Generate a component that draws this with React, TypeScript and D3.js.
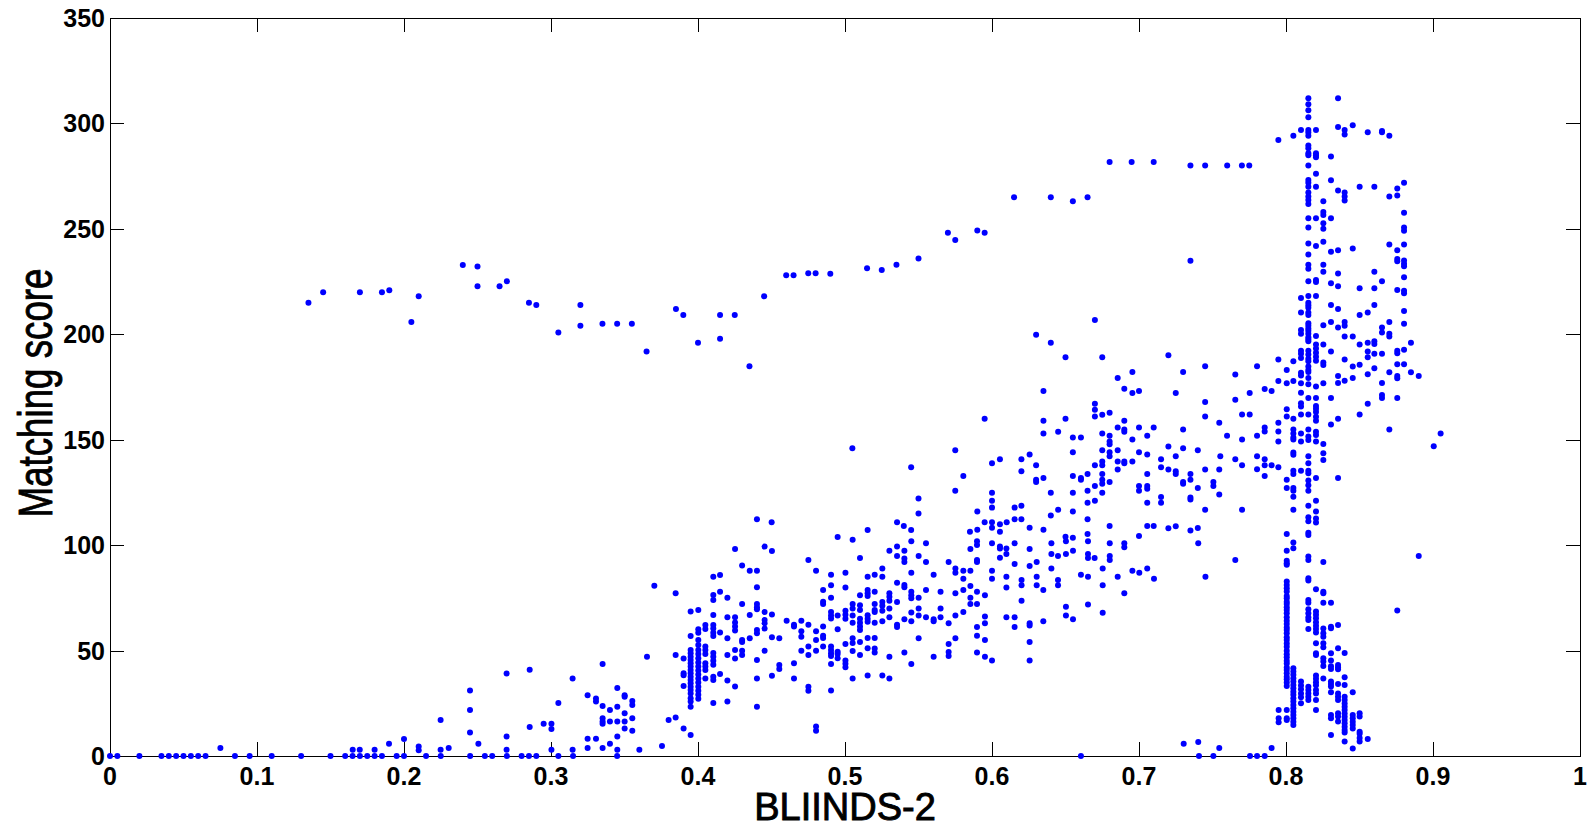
import React, { useEffect, useRef } from 'react';
import * as d3 from 'd3';

type Pt = [number, number];
type Col = [number, number[]];

const W = 1591;
const H = 827;

// tick values
const xTicks = [0, 0.1, 0.2, 0.3, 0.4, 0.5, 0.6, 0.7, 0.8, 0.9, 1];
const yTicks = [0, 50, 100, 150, 200, 250, 300, 350];
const xTickLabels = ['0', '0.1', '0.2', '0.3', '0.4', '0.5', '0.6', '0.7', '0.8', '0.9', '1'];
const yTickLabels = ['0', '50', '100', '150', '200', '250', '300', '350'];

// images scoring zero
const zeroRowX = [
  0, 0.005, 0.02, 0.035, 0.04, 0.045, 0.05, 0.055, 0.06, 0.065, 0.085, 0.095, 0.11, 0.13, 0.15, 0.16,
  0.165, 0.17, 0.175, 0.18, 0.185, 0.195, 0.2, 0.215, 0.225, 0.245, 0.255, 0.26, 0.27, 0.28, 0.285,
  0.29, 0.305, 0.315, 0.345, 0.6605, 0.7408, 0.7506, 0.7755, 0.7803, 0.7855,
];

// sparse low scores, left side
const lowSparse: Pt[] = [
  [0.0751, 3.8], [0.1651, 3.0], [0.1699, 3.0], [0.18, 3.0], [0.1898, 5.8], [0.2, 8.1], [0.21, 4.5],
  [0.21, 2.7], [0.2249, 17.1], [0.2249, 3.0], [0.2304, 3.8], [0.2449, 31.1], [0.2449, 21.8],
  [0.2449, 11.1], [0.2506, 5.8], [0.2698, 39.1], [0.2698, 9.2], [0.2698, 3.0], [0.2855, 40.9],
  [0.2855, 13.8], [0.295, 15.3], [0.3003, 15.3], [0.3003, 12.8], [0.3003, 3.0], [0.305, 25.1],
  [0.3147, 36.7], [0.3147, 3.0], [0.3249, 28.8], [0.3249, 8.2], [0.3249, 3.8], [0.3306, 27.3],
  [0.3306, 25.8], [0.3306, 8.2], [0.3351, 43.6], [0.3351, 23.7], [0.3351, 17.9], [0.3351, 16.4],
  [0.3351, 15.3], [0.3351, 3.8], [0.3401, 21.8], [0.3401, 16.4], [0.3401, 5.8], [0.3451, 32.3],
  [0.3451, 23.4], [0.3451, 16.4], [0.3451, 9.2], [0.3451, 3.0], [0.3501, 28.8], [0.3501, 28.1],
  [0.3501, 20.3], [0.3501, 16.4], [0.3501, 13.0], [0.3553, 26.1], [0.3553, 24.2], [0.3553, 17.9],
  [0.3553, 12.0], [0.3601, 3.0], [0.3653, 47.1], [0.3703, 80.8], [0.3755, 4.7], [0.38, 17.1],
  [0.3848, 77.2], [0.3848, 47.9], [0.3848, 18.2], [0.3902, 46.2], [0.3902, 13.0], [0.395, 10.0],
  [0.3902, 39.2], [0.3902, 38.3], [0.3902, 33.2], [0.7304, 5.8], [0.7403, 6.6], [0.7546, 3.8],
  [0.7902, 3.8],
];

// upper band of high scores
const upperBand: Pt[] = [
  [0.135, 214.9], [0.145, 219.9], [0.17, 219.9], [0.185, 219.9], [0.19, 220.9], [0.205, 205.8],
  [0.21, 218.0], [0.24, 232.9], [0.25, 232.1], [0.25, 222.8], [0.265, 222.8], [0.27, 225.1],
  [0.285, 214.9], [0.29, 213.9], [0.305, 200.8], [0.32, 213.9], [0.32, 204.1], [0.335, 205.0],
  [0.345, 205.0], [0.355, 205.0], [0.365, 191.8], [0.385, 212.0], [0.39, 209.2], [0.4, 196.0],
  [0.415, 209.2], [0.415, 197.9], [0.425, 209.2], [0.435, 184.8], [0.445, 218.0], [0.46, 228.0],
  [0.465, 228.0], [0.475, 228.9], [0.48, 228.9], [0.49, 228.7], [0.515, 231.3], [0.525, 230.5],
  [0.535, 233.0], [0.55, 235.9], [0.57, 248.2], [0.575, 244.7], [0.59, 249.2], [0.595, 248.2],
  [0.615, 265.0], [0.64, 265.0], [0.655, 263.1], [0.665, 265.0], [0.68, 281.7], [0.695, 281.7],
  [0.71, 281.7], [0.735, 280.0], [0.745, 280.0], [0.76, 280.0], [0.77, 280.0], [0.775, 280.0],
  [0.735, 234.9], [0.4401, 112.3], [0.4501, 110.9], [0.7948, 292.2], [0.805, 294.1], [0.8102, 296.9],
];

// middle cloud, 0.47 - 0.81, scores above 100
const midCloud: Pt[] = [
  [0.67, 206.8], [0.63, 199.8], [0.64, 196.0], [0.65, 189.1], [0.675, 189.1], [0.72, 190.0],
  [0.73, 182.1], [0.745, 184.8], [0.6855, 179.3], [0.6955, 182.1], [0.69, 174.2], [0.6955, 172.2],
  [0.7, 173.1], [0.725, 172.2], [0.745, 167.9], [0.745, 161.0], [0.7546, 158.1], [0.635, 173.1],
  [0.67, 167.1], [0.67, 164.2], [0.67, 161.0], [0.675, 161.8], [0.68, 162.8], [0.595, 160.0],
  [0.635, 159.0], [0.65, 160.0], [0.635, 152.9], [0.645, 153.8], [0.655, 151.1], [0.6605, 151.1],
  [0.675, 152.9], [0.68, 151.9], [0.68, 149.2], [0.68, 147.8], [0.69, 159.0], [0.69, 154.8],
  [0.69, 153.8], [0.6855, 155.8], [0.7, 155.8], [0.71, 155.8], [0.6955, 150.1], [0.7056, 151.9],
  [0.73, 154.8], [0.505, 145.9], [0.655, 144.0], [0.675, 145.0], [0.68, 144.0], [0.68, 142.1],
  [0.6855, 145.0], [0.7, 144.0], [0.7056, 143.0], [0.72, 146.8], [0.73, 145.9], [0.74, 145.0],
  [0.725, 142.2], [0.715, 140.7], [0.6855, 139.7], [0.69, 139.7], [0.69, 138.8], [0.6955, 139.7],
  [0.675, 139.7], [0.675, 137.9], [0.67, 137.9], [0.665, 133.7], [0.6855, 135.9], [0.715, 136.9],
  [0.72, 135.9], [0.725, 135.0], [0.725, 133.7], [0.735, 133.7], [0.735, 131.0], [0.73, 130.0],
  [0.73, 129.1], [0.745, 135.9], [0.7546, 135.9], [0.7506, 130.0], [0.7506, 128.1], [0.7546, 124.0],
  [0.74, 127.1], [0.735, 122.6], [0.735, 121.6], [0.745, 116.8], [0.675, 133.7], [0.675, 131.0],
  [0.675, 129.1], [0.68, 130.0], [0.675, 124.9], [0.67, 128.1], [0.665, 125.8], [0.665, 120.1],
  [0.67, 121.1], [0.6605, 131.9], [0.6605, 131.0], [0.655, 132.8], [0.655, 124.9], [0.655, 115.9],
  [0.665, 112.3], [0.665, 105.3], [0.7, 128.1], [0.7, 125.8], [0.7056, 128.1], [0.7056, 126.8],
  [0.7056, 133.7], [0.7056, 120.1], [0.715, 122.8], [0.715, 120.1], [0.7056, 109.1], [0.71, 109.1],
  [0.72, 108.0], [0.725, 109.0], [0.735, 107.0], [0.74, 108.1], [0.7, 104.3], [0.68, 109.1],
  [0.64, 124.9], [0.64, 114.0], [0.645, 116.8], [0.65, 104.0], [0.655, 103.5], [0.635, 131.9],
  [0.63, 131.0], [0.63, 130.0], [0.63, 137.9], [0.6256, 143.0], [0.62, 140.7], [0.62, 135.0],
  [0.6054, 140.7], [0.6, 138.8], [0.5805, 132.8], [0.575, 145.0], [0.575, 125.8], [0.6, 124.9],
  [0.6, 121.1], [0.6, 117.8], [0.59, 115.9], [0.595, 110.8], [0.6, 110.8], [0.6, 108.2],
  [0.6054, 109.9], [0.6054, 106.3], [0.61, 110.8], [0.6154, 117.8], [0.62, 118.7], [0.6154, 112.3],
  [0.62, 112.3], [0.6256, 108.2], [0.635, 107.3], [0.59, 107.3], [0.585, 106.3], [0.55, 122.1],
  [0.55, 115.0], [0.545, 136.9], [0.5354, 110.8], [0.54, 109.1], [0.545, 107.2], [0.5154, 107.2],
  [0.495, 103.9], [0.5052, 102.5],
  [0.7655, 180.9], [0.7803, 184.8], [0.7948, 188.1], [0.805, 187.2], [0.8005, 183.1], [0.7948, 177.9],
  [0.8005, 176.8], [0.805, 177.9], [0.7855, 174.1], [0.7902, 173.1], [0.7753, 172.2], [0.7655, 168.9],
  [0.7701, 161.9], [0.7753, 161.9], [0.7599, 151.9], [0.7701, 150.1], [0.7803, 151.9], [0.7855, 155.8],
  [0.7855, 153.9], [0.7948, 158.1], [0.7948, 153.9], [0.7948, 149.1], [0.8005, 164.4], [0.8005, 161.0],
  [0.805, 160.0], [0.805, 154.8], [0.805, 152.9], [0.805, 151.1], [0.805, 150.1], [0.7553, 142.2],
  [0.7655, 140.7], [0.7701, 137.9], [0.7803, 142.2], [0.7855, 140.7], [0.7855, 137.9], [0.7902, 137.9],
  [0.7948, 136.9], [0.7803, 136.0], [0.805, 143.9], [0.805, 142.9], [0.8005, 131.0], [0.805, 135.3],
  [0.805, 133.7], [0.8005, 127.1], [0.805, 127.1], [0.805, 125.8], [0.805, 123.0], [0.7855, 132.8],
  [0.7701, 116.8], [0.805, 116.8], [0.8005, 105.3],
];

// main cloud, 0.47 - 0.76, scores below 100
const lowCloud: Pt[] = [
  [0.4703, 64.2], [0.4751, 62.3], [0.4703, 59.2], [0.4703, 56.6], [0.4803, 59.2], [0.4851, 61.4],
  [0.4851, 78.7], [0.4751, 51.9], [0.4803, 55.0], [0.4851, 57.0], [0.4851, 56.0], [0.4703, 49.9],
  [0.4751, 47.9], [0.4803, 49.9], [0.4851, 51.9], [0.4751, 93.0], [0.4803, 87.9], [0.4905, 86.0],
  [0.4905, 81.0], [0.4905, 75.1], [0.4851, 73.2], [0.4851, 72.1], [0.4905, 68.3], [0.4905, 66.6],
  [0.4905, 65.2], [0.4905, 51.9], [0.4905, 50.3], [0.4905, 48.7], [0.4905, 47.4], [0.4905, 43.6],
  [0.4905, 31.1], [0.4751, 32.9], [0.4751, 31.0], [0.4803, 14.0], [0.4803, 12.0], [0.495, 66.6],
  [0.495, 60.1], [0.495, 49.5], [0.495, 48.4], [0.495, 46.4], [0.5003, 86.9], [0.5003, 79.9],
  [0.5003, 68.9], [0.5003, 67.0], [0.5003, 65.1], [0.5003, 53.1], [0.5003, 45.3], [0.5003, 43.7],
  [0.5003, 42.1], [0.5052, 72.1], [0.5052, 70.0], [0.5052, 66.6], [0.5052, 63.2], [0.5052, 55.9],
  [0.5052, 53.6], [0.5052, 49.8], [0.5052, 36.7], [0.5102, 93.9], [0.5102, 76.2], [0.5102, 71.5],
  [0.5102, 69.3], [0.5102, 65.1], [0.5102, 63.2], [0.5102, 61.4], [0.5102, 59.8], [0.5102, 54.1],
  [0.5102, 47.9], [0.5154, 85.0], [0.5154, 78.7], [0.5154, 77.2], [0.5154, 75.9], [0.5154, 66.8],
  [0.5154, 65.1], [0.5154, 63.7], [0.5154, 56.0], [0.5154, 51.1], [0.5154, 38.2], [0.5202, 86.0],
  [0.5202, 77.9], [0.5202, 72.1], [0.5202, 69.3], [0.5202, 68.3], [0.5202, 63.2], [0.5202, 56.0],
  [0.5202, 51.0], [0.5202, 49.1], [0.5254, 88.9], [0.5254, 85.0], [0.5254, 73.0], [0.5254, 71.2],
  [0.5254, 68.9], [0.5254, 63.9], [0.5254, 38.2], [0.5302, 97.4], [0.5302, 77.2], [0.5302, 75.5],
  [0.5302, 73.6], [0.5302, 70.0], [0.5302, 65.8], [0.5302, 47.1], [0.5302, 36.7], [0.5354, 99.3],
  [0.5354, 94.9], [0.5354, 82.2], [0.5354, 73.0], [0.5354, 62.3], [0.5354, 61.2], [0.5404, 97.4],
  [0.5404, 93.7], [0.5404, 92.0], [0.5404, 81.1], [0.5404, 80.0], [0.5404, 64.8], [0.5404, 49.1],
  [0.5451, 101.8], [0.5451, 86.9], [0.5451, 77.9], [0.5451, 76.2], [0.5451, 74.8], [0.5451, 68.0],
  [0.5451, 63.9], [0.5451, 43.6], [0.5501, 94.9], [0.5501, 75.1], [0.5501, 70.0], [0.5501, 66.6],
  [0.5501, 55.9], [0.5551, 100.9], [0.5551, 92.0], [0.5551, 78.7], [0.5551, 65.8], [0.5603, 86.0],
  [0.5603, 64.8], [0.5603, 63.9], [0.5603, 47.1], [0.565, 77.9], [0.565, 70.0], [0.565, 65.8],
  [0.5705, 92.0], [0.5705, 62.9], [0.5705, 53.1], [0.5705, 49.3], [0.5705, 47.4], [0.5751, 88.9],
  [0.5751, 86.9], [0.5751, 77.2], [0.5751, 66.6], [0.5751, 55.9], [0.5805, 87.9], [0.5805, 84.1],
  [0.5805, 78.7], [0.5805, 68.3], [0.5853, 98.2], [0.5853, 87.9], [0.5853, 80.6], [0.5853, 75.1],
  [0.5853, 72.1], [0.5898, 101.8], [0.5898, 100.1], [0.5898, 93.0], [0.5898, 92.0], [0.5898, 77.9],
  [0.5898, 72.1], [0.5898, 61.2], [0.5898, 57.0], [0.5898, 49.1], [0.5952, 76.2], [0.5952, 66.1],
  [0.5952, 62.9], [0.5952, 55.0], [0.5952, 47.1], [0.6, 87.9], [0.6, 84.1], [0.6, 45.3], [0.6, 100.9],
  [0.6054, 99.3], [0.6054, 98.4], [0.6054, 94.0], [0.6098, 98.4], [0.6098, 95.8], [0.6098, 85.0],
  [0.6098, 79.9], [0.6098, 65.8], [0.6154, 100.9], [0.6154, 91.1], [0.6154, 65.8], [0.6154, 61.2],
  [0.6201, 83.5], [0.6201, 81.0], [0.6201, 73.6], [0.6256, 98.2], [0.6256, 90.1], [0.6256, 62.9],
  [0.6256, 61.9], [0.6256, 54.1], [0.6256, 45.3], [0.6304, 92.0], [0.6304, 85.0], [0.6304, 81.0],
  [0.6349, 78.7], [0.6349, 63.9], [0.6404, 100.9], [0.6404, 95.8], [0.6404, 88.9], [0.6449, 94.9],
  [0.6449, 83.5], [0.6449, 81.0], [0.6503, 101.8], [0.6503, 95.8], [0.6503, 70.8], [0.6503, 66.6],
  [0.6551, 97.4], [0.6551, 64.8], [0.6605, 86.0], [0.6653, 101.8], [0.6653, 95.8], [0.6653, 93.9],
  [0.6653, 85.0], [0.6653, 71.8], [0.6698, 93.9], [0.6753, 88.9], [0.6753, 81.0], [0.6753, 67.9],
  [0.6801, 100.9], [0.6801, 94.9], [0.6801, 93.0], [0.6855, 85.0], [0.69, 100.9], [0.69, 99.0],
  [0.69, 77.2], [0.6955, 87.9], [0.7002, 86.9], [0.7056, 88.9], [0.7102, 84.1], [0.7403, 100.9],
  [0.7452, 85.0], [0.7655, 93.0], [0.8903, 94.9], [0.8757, 69.0],
];

// dense vertical columns around 0.4
const cols040: Col[] = [
  [0.395, [68.5, 56.9, 50.3, 48.7, 47.1, 45.5, 44.0, 42.4, 40.8, 39.2, 37.6, 36.0, 34.5, 32.9, 31.3, 29.7, 27.4, 25.8, 23.4]],
  [0.4002, [69.2, 60.1, 58.5, 55.0, 52.6, 50.3, 48.4, 46.4, 44.4, 42.4, 40.5, 38.6, 36.7, 34.8, 32.9, 31.0, 29.1, 27.2]],
  [0.405, [62.1, 60.2, 51.9, 50.3, 48.4, 44.0, 42.4, 40.8, 36.7]],
  [0.4104, [85.0, 76.4, 74.0, 66.9, 62.1, 60.5, 58.5, 56.9, 48.9, 47.1, 45.2, 43.3, 37.6, 36.0, 25.1]],
  [0.415, [85.8, 77.9, 58.6, 38.9]],
  [0.42, [75.1, 65.8, 55.9, 47.9, 35.8, 25.9]],
  [0.4252, [98.2, 65.8, 63.3, 61.4, 59.5, 50.3, 46.2, 33.0]],
  [0.43, [90.3, 72.1, 55.0, 54.1, 49.9, 47.9]],
  [0.4352, [87.9, 66.9, 55.9]],
  [0.4401, [87.9, 80.0, 72.1, 70.5, 69.6, 59.8, 58.2, 45.5, 36.8, 23.4]],
  [0.4453, [99.3, 68.3, 64.5, 62.9, 60.5, 49.9]],
  [0.4503, [97.2, 67.1, 56.3, 38.1]],
  [0.4553, [55.9, 43.2, 41.3]],
  [0.4603, [64.2]],
  [0.4653, [62.3, 61.4, 44.0, 36.7]],
];

// dense vertical columns around 0.8 - 0.9
const cols080: Col[] = [
  [0.795, [21.8, 17.9, 16.0]],
  [0.8005, [97.4, 92.6, 91.4, 90.7, 82.7, 81.1, 79.6, 78.0, 75.9, 74.8, 73.2, 72.1, 70.5, 69.3, 67.7, 65.8,
    64.2, 62.6, 61.0, 59.8, 58.2, 56.3, 55.0, 53.4, 51.8, 49.9, 48.3, 46.8, 45.2, 43.9, 42.0, 40.8, 39.2,
    37.6, 36.4, 34.8, 33.2, 21.8, 17.9, 17.1]],
  [0.805, [101.2, 98.5, 41.6, 40.1, 38.5, 36.9, 35.3, 33.7, 32.1, 30.5, 29.0, 27.4, 25.8, 24.2, 22.6, 21.0,
    19.4, 17.9, 16.3, 14.7]],
  [0.8102, [217.2, 210.3, 202.0, 200.2, 192.2, 190.8, 188.8, 181.8, 180.5, 176.8, 172.3, 167.3, 165.7, 161.9,
    153.0, 149.1, 135.3, 35.3, 33.4, 31.6, 29.7, 27.9, 25.0]],
  [0.8152, [311.9, 309.1, 306.2, 302.9, 296.9, 295.7, 294.1, 289.5, 288.2, 285.9, 284.9, 280.0, 273.2, 271.9,
    270.0, 267.2, 265.3, 263.7, 261.8, 255.0, 250.7, 243.0, 237.8, 233.0, 231.1, 225.1, 218.2, 215.0, 213.8,
    212.6, 210.3, 209.2, 205.2, 204.1, 202.8, 201.7, 200.2, 198.6, 197.6, 196.7, 192.2, 190.4, 188.4, 187.2,
    184.7, 183.1, 182.1, 179.3, 176.3, 169.8, 161.9, 154.9, 151.5, 149.9, 142.1, 138.8, 135.3, 134.1, 130.6,
    128.4, 125.8, 118.7, 113.2, 111.3, 105.9, 104.8, 94.6, 93.0, 84.3, 83.2, 74.0, 72.7, 69.6, 67.7, 65.8,
    64.5, 60.2, 32.9, 31.3, 29.7, 28.1, 26.5]],
  [0.8204, [296.9, 285.9, 284.9, 284.0, 276.1, 270.0, 255.0, 241.9, 225.8, 224.8, 218.2, 199.2, 195.1, 193.2,
    191.3, 189.4, 187.5, 175.2, 169.8, 166.0, 164.7, 163.2, 160.9, 159.0, 153.8, 152.2, 149.1, 131.9, 121.1,
    115.9, 112.6, 110.7, 79.1, 68.5, 67.0, 65.3, 63.4, 61.8, 60.2, 58.6, 53.5, 48.7, 47.9, 38.2, 36.6, 35.0,
    33.5, 31.3, 29.7, 26.5, 21.8]],
  [0.8254, [263.1, 258.0, 256.6, 252.6, 250.0, 243.9, 233.0, 229.7, 204.3, 195.1, 186.6, 185.4, 176.8, 148.0,
    143.6, 140.4, 92.0, 77.9, 77.2, 72.7, 60.5, 58.2, 56.6, 53.5, 51.6, 46.4, 44.8, 42.7, 36.8]],
  [0.8306, [284.3, 273.0, 255.0, 239.2, 224.2, 213.9, 205.8, 191.8, 169.8, 157.2, 72.7, 61.3, 60.6, 48.7, 45.3,
    42.6, 41.3, 35.3, 34.2, 33.0, 30.2, 19.4, 17.9, 10.0]],
  [0.8354, [311.9, 298.3, 268.2, 239.8, 228.8, 222.8, 212.0, 203.2, 180.2, 176.9, 160.0, 131.9, 62.1, 51.1,
    43.2, 42.1, 41.2, 34.2, 29.7, 28.1, 26.5, 20.3, 18.7, 16.4]],
  [0.8399, [296.9, 294.7, 267.3, 265.4, 263.4, 205.8, 204.1, 198.9, 188.1, 178.0, 48.9, 37.3, 33.7, 28.1, 26.5,
    24.9, 23.4, 21.8, 20.2, 18.6, 17.1, 15.5, 13.9, 12.3, 11.2, 6.9]],
  [0.8454, [299.1, 240.7, 198.9, 184.7, 179.3, 30.2, 19.4, 17.9, 16.3, 14.7, 13.1, 3.6]],
  [0.8501, [270.0, 221.8, 209.2, 195.1, 185.6, 161.9, 20.3, 18.7, 11.5, 10.5, 8.5, 6.9]],
  [0.8556, [295.8, 210.3, 196.0, 191.8, 189.1, 181.0, 167.1, 8.1]],
  [0.8601, [270.0, 229.7, 221.8, 213.9, 196.7, 195.4, 190.8, 183.9]],
  [0.8653, [296.4, 295.8, 225.1, 203.2, 200.8, 190.8, 176.9, 171.2, 169.8]],
  [0.8703, [294.1, 265.4, 242.6, 205.8, 200.2, 198.9, 182.0, 154.8]],
  [0.8757, [269.1, 265.8, 239.8, 235.7, 234.6, 221.0, 192.2, 191.0, 185.8, 180.2, 179.1, 169.8]],
  [0.8803, [271.9, 257.6, 250.7, 249.1, 242.6, 235.0, 233.5, 232.3, 227.0, 220.7, 219.5, 211.1, 205.0, 192.7, 185.8]],
  [0.885, [196.0, 182.0]],
  [0.8903, [180.2]],
  [0.9005, [146.9]],
  [0.9052, [152.9]],
];

const flattenCols = (cols: Col[]): Pt[] => cols.flatMap(([x, ys]) => ys.map((y) => [x, y] as Pt));

const App = () => {
  const ref = useRef<SVGSVGElement>(null);

  useEffect(() => {
    const svg = d3.select(ref.current);
    svg.selectAll('*').remove();

    const left = 110;
    const right = 1580;
    const top = 18;
    const bottom = 756;
    const tick = 14;

    const x = d3.scaleLinear().domain([0, 1]).range([left, right]);
    const y = d3.scaleLinear().domain([0, 350]).range([bottom, top]);

    svg.append('rect').attr('width', W).attr('height', H).attr('fill', '#fff');

    const points: Pt[] = [
      ...zeroRowX.map((v) => [v, 0] as Pt),
      ...lowSparse,
      ...upperBand,
      ...midCloud,
      ...lowCloud,
      ...flattenCols(cols040),
      ...flattenCols(cols080),
    ];

    // axes box and ticks
    const axis = svg.append('g').attr('stroke', '#000').attr('stroke-width', 1).attr('fill', 'none');
    axis
      .selectAll('line.xt')
      .data(xTicks)
      .enter()
      .append('line')
      .attr('x1', (d) => Math.round(x(d)) + 0.5)
      .attr('x2', (d) => Math.round(x(d)) + 0.5)
      .attr('y1', bottom)
      .attr('y2', bottom - tick);
    axis
      .selectAll('line.xtt')
      .data(xTicks)
      .enter()
      .append('line')
      .attr('x1', (d) => Math.round(x(d)) + 0.5)
      .attr('x2', (d) => Math.round(x(d)) + 0.5)
      .attr('y1', top)
      .attr('y2', top + tick);
    axis
      .selectAll('line.yt')
      .data(yTicks)
      .enter()
      .append('line')
      .attr('x1', left)
      .attr('x2', left + tick)
      .attr('y1', (d) => Math.round(y(d)) + 0.5)
      .attr('y2', (d) => Math.round(y(d)) + 0.5);
    axis
      .selectAll('line.ytr')
      .data(yTicks)
      .enter()
      .append('line')
      .attr('x1', right)
      .attr('x2', right - tick)
      .attr('y1', (d) => Math.round(y(d)) + 0.5)
      .attr('y2', (d) => Math.round(y(d)) + 0.5);

    // scatter points
    svg
      .append('g')
      .selectAll('circle')
      .data(points)
      .enter()
      .append('circle')
      .attr('cx', (d) => x(d[0]))
      .attr('cy', (d) => y(d[1]))
      .attr('r', 3)
      .attr('fill', '#0000ff');

    axis
      .append('rect')
      .attr('x', left + 0.5)
      .attr('y', top + 0.5)
      .attr('width', right - left)
      .attr('height', bottom - top);

    // tick labels
    const font = 'Liberation Sans, Arial, sans-serif';
    svg
      .append('g')
      .selectAll('text')
      .data(xTicks)
      .enter()
      .append('text')
      .attr('x', (d) => x(d))
      .attr('y', 785)
      .attr('text-anchor', 'middle')
      .style('font-family', font)
      .style('font-size', '25px')
      .style('font-weight', 'bold')
      .text((d, i) => xTickLabels[i]);

    svg
      .append('g')
      .selectAll('text')
      .data(yTicks)
      .enter()
      .append('text')
      .attr('x', 105)
      .attr('y', (d) => y(d) + 9)
      .attr('text-anchor', 'end')
      .style('font-family', font)
      .style('font-size', '25px')
      .style('font-weight', 'bold')
      .text((d, i) => yTickLabels[i]);

    // axis titles
    svg
      .append('text')
      .attr('x', 845)
      .attr('y', 820)
      .attr('text-anchor', 'middle')
      .attr('stroke', '#000')
      .attr('stroke-width', 0.9)
      .style('font-family', font)
      .style('font-size', '38px')
      .text('BLIINDS-2');

    svg
      .append('text')
      .attr('transform', 'translate(52,393) rotate(-90)')
      .attr('text-anchor', 'middle')
      .attr('textLength', 249)
      .attr('lengthAdjust', 'spacingAndGlyphs')
      .attr('stroke', '#000')
      .attr('stroke-width', 0.9)
      .style('font-family', font)
      .style('font-size', '48px')
      .text('Matching score');
  }, []);

  return (
    <svg
      ref={ref}
      width={W}
      height={H}
      style={{ position: 'absolute', left: 0, top: 0, display: 'block' }}
    />
  );
};

export default App;
